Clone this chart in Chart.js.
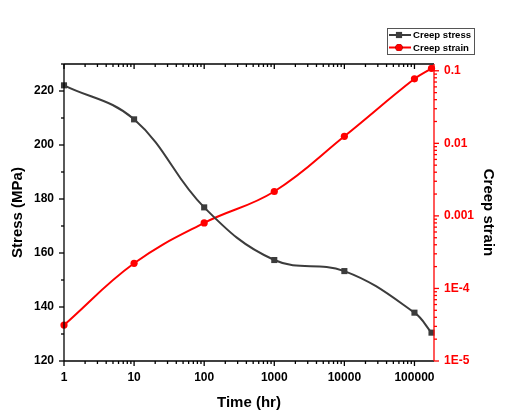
<!DOCTYPE html>
<html>
<head>
<meta charset="utf-8">
<script src="https://cdn.jsdelivr.net/npm/chart.js@4.4.1/dist/chart.umd.min.js"></script>
<style>
  html, body { margin: 0; padding: 0; background: #fff; }
  canvas { display: block; }
</style>
</head>
<body>
<canvas id="creepChart" width="505" height="417"></canvas>
<script>
// values
const timeHr = [1, 10, 100, 1000, 10000, 100000, 175000];
const stressMPa = [222.1, 209.5, 176.9, 157.4, 153.3, 137.9, 130.5];
const creepStrain = [3.13e-5, 2.22e-4, 8.0e-4, 2.17e-3, 0.0125, 0.0775, 0.108];

const timeTicks = [1, 10, 100, 1000, 10000, 100000];
const stressTicks = [120, 140, 160, 180, 200, 220];
const strainTicks = [1e-5, 1e-4, 1e-3, 1e-2, 1e-1];
const strainLabels = ['1E-5', '1E-4', '0.001', '0.01', '0.1'];

const RED = '#ff0000';
const GREY = '#3c3c3c';
const FONT = '"Liberation Sans", Arial, sans-serif';

const pts = (xs, ys) => xs.map((x, i) => ({x: x, y: ys[i]}));

// minor values between log decades
function logMinors(decades, max) {
  let out = [];
  decades.forEach(d => {
    for (let k = 2; k <= 9; k++) if (d * k <= max) out.push(d * k);
  });
  return out;
}

const frameTicks = {
  id: 'frameTicks',
  afterDatasetsDraw(chart) {
    const {ctx, chartArea: a, scales} = chart;
    const line = (x1, y1, x2, y2) => { ctx.beginPath(); ctx.moveTo(x1, y1); ctx.lineTo(x2, y2); ctx.stroke(); };
    ctx.save();
    ctx.lineWidth = 1.3;
    ctx.strokeStyle = '#000';
    line(a.left, a.top, a.right, a.top);
    line(a.left, a.top, a.left, a.bottom);
    line(a.left, a.bottom, a.right, a.bottom);

    // time axis, bottom outward, top inward
    const x = scales.x;
    const xMinor = logMinors(timeTicks, x.max);
    timeTicks.forEach(v => {
      const px = x.getPixelForValue(v);
      line(px, a.bottom, px, a.bottom + 5);
      line(px, a.top, px, a.top + 5);
    });
    xMinor.forEach(v => {
      const px = x.getPixelForValue(v);
      line(px, a.bottom, px, a.bottom + 3);
      line(px, a.top, px, a.top + 3);
    });

    // stress axis
    const y = scales.y;
    stressTicks.forEach(v => {
      const py = y.getPixelForValue(v);
      line(a.left - 5, py, a.left, py);
    });
    stressTicks.map(v => v + 10).forEach(v => {
      const py = y.getPixelForValue(v);
      line(a.left - 3, py, a.left, py);
    });

    // strain axis
    const y2 = scales.y2;
    ctx.strokeStyle = RED;
    line(a.right, a.top, a.right, a.bottom);
    strainTicks.forEach(v => {
      const py = y2.getPixelForValue(v);
      line(a.right, py, a.right + 5, py);
    });
    logMinors(strainTicks, y2.max).forEach(v => {
      const py = y2.getPixelForValue(v);
      line(a.right, py, a.right + 3, py);
    });
    ctx.restore();
  }
};

const boxLegend = {
  id: 'boxLegend',
  afterDraw(chart) {
    const ctx = chart.ctx;
    const bx = 387, by = 28, bw = 87, bh = 26;
    ctx.save();
    ctx.strokeStyle = '#555';
    ctx.lineWidth = 1;
    ctx.strokeRect(bx + 0.5, by + 0.5, bw, bh);
    ctx.font = 'bold 9.6px ' + FONT;
    ctx.textBaseline = 'middle';
    ctx.fillStyle = '#000';
    chart.data.datasets.forEach((ds, i) => {
      const cy = by + 7 + i * 12.5;
      ctx.strokeStyle = ds.borderColor;
      ctx.lineWidth = 2;
      ctx.beginPath(); ctx.moveTo(bx + 2, cy); ctx.lineTo(bx + 24, cy); ctx.stroke();
      Chart.helpers.drawPoint(ctx, {pointStyle: ds.pointStyle, radius: ds.pointRadius, borderWidth: 0}, bx + 12, cy);
      ctx.fillStyle = ds.borderColor;
      ctx.fill();
      ctx.fillStyle = '#000';
      ctx.fillText(ds.label, bx + 26, cy + 0.5);
    });
    ctx.restore();
  }
};

new Chart(document.getElementById('creepChart'), {
  type: 'line',
  data: {
    datasets: [{
      label: 'Creep stress',
      data: pts(timeHr, stressMPa),
      yAxisID: 'y',
      borderColor: GREY,
      backgroundColor: GREY,
      borderWidth: 2,
      pointStyle: 'rect',
      pointRadius: 4.3,
      pointBorderWidth: 0,
      tension: 0.4
    }, {
      label: 'Creep strain',
      data: pts(timeHr, creepStrain),
      yAxisID: 'y2',
      borderColor: RED,
      backgroundColor: RED,
      borderWidth: 2,
      pointStyle: 'circle',
      pointRadius: 3.6,
      pointBorderWidth: 0,
      tension: 0.4
    }]
  },
  options: {
    responsive: false,
    animation: false,
    clip: false,
    layout: { padding: 0 },
    plugins: { legend: { display: false }, tooltip: { enabled: false } },
    scales: {
      x: {
        type: 'logarithmic',
        position: 'bottom',
        min: 1,
        max: 190000,
        afterBuildTicks: s => { s.ticks = timeTicks.map(v => ({value: v})); },
        afterFit: s => { s.height = 56; },
        grid: { display: false, drawTicks: false },
        border: { display: false },
        ticks: {
          padding: 9,
          color: '#000',
          maxRotation: 0,
          autoSkip: false,
          font: { family: FONT, size: 12, weight: 'bold' },
          callback: v => String(v)
        },
        title: {
          display: true,
          text: 'Time (hr)',
          color: '#000',
          padding: { bottom: 5 },
          font: { family: FONT, size: 15, weight: 'bold' }
        }
      },
      xTop: {
        type: 'logarithmic',
        position: 'top',
        min: 1,
        max: 190000,
        afterFit: s => { s.height = 64; },
        grid: { display: false, drawTicks: false },
        border: { display: false },
        ticks: { display: false }
      },
      y: {
        type: 'linear',
        position: 'left',
        min: 120,
        max: 230,
        afterBuildTicks: s => { s.ticks = stressTicks.map(v => ({value: v})); },
        afterFit: s => { s.width = 64; },
        grid: { display: false, drawTicks: false },
        border: { display: false },
        ticks: {
          padding: 10,
          color: '#000',
          font: { family: FONT, size: 12, weight: 'bold' }
        },
        title: {
          display: true,
          text: 'Stress (MPa)',
          color: '#000',
          padding: { top: 9 },
          font: { family: FONT, size: 15, weight: 'bold' }
        }
      },
      y2: {
        type: 'logarithmic',
        position: 'right',
        min: 1e-5,
        max: 0.124,
        afterBuildTicks: s => { s.ticks = strainTicks.map(v => ({value: v})); },
        afterFit: s => { s.width = 71; },
        grid: { display: false, drawTicks: false },
        border: { display: false },
        ticks: {
          padding: 10,
          color: RED,
          font: { family: FONT, size: 12, weight: 'bold' },
          callback: (v) => strainLabels[strainTicks.findIndex(t => Math.abs(Math.log10(t) - Math.log10(v)) < 1e-6)]
        },
        title: {
          display: true,
          text: 'Creep strain',
          color: '#000',
          padding: { top: 8 },
          font: { family: FONT, size: 15, weight: 'bold' }
        }
      }
    }
  },
  plugins: [frameTicks, boxLegend]
});
</script>
</body>
</html>
